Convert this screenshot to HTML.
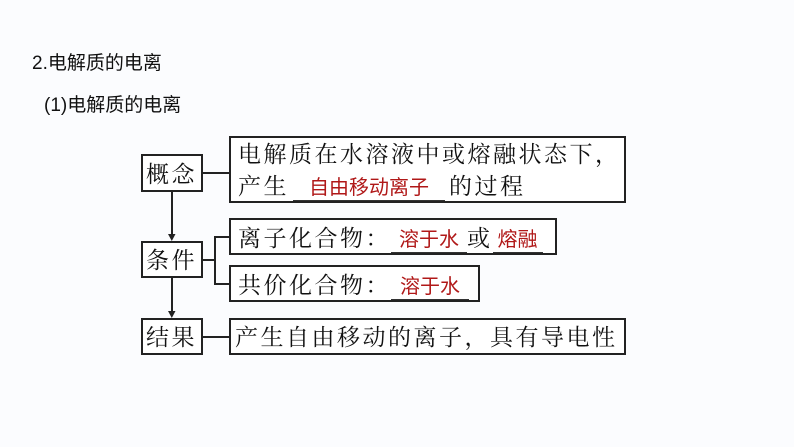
<!DOCTYPE html>
<html><head><meta charset="utf-8"><style>
body{margin:0;width:794px;height:447px;background:#fbfcfe;position:relative;overflow:hidden;font-family:"Liberation Serif","Noto Serif CJK SC",serif;color:#111}
.a{position:absolute;white-space:nowrap}
.b{position:absolute;border:2px solid #222;box-sizing:border-box;background:#fff}
.t{font-size:23px;letter-spacing:2.5px}
.r{color:#b01818;font-family:"Liberation Sans","Noto Sans CJK SC",sans-serif;font-size:20px;letter-spacing:0}
.u{display:inline-block;border-bottom:1.5px solid #333;text-align:center}
.l{position:absolute;background:#222}
</style></head><body>
<div class="a" style="left:32px;top:48px;font-size:19px;font-family:'Liberation Sans','Noto Sans CJK SC',sans-serif">2.电解质的电离</div>
<div class="a" style="left:44px;top:90px;font-size:19px;font-family:'Liberation Sans','Noto Sans CJK SC',sans-serif">(1)电解质的电离</div>

<div class="b" style="left:141px;top:154px;width:62px;height:38px"></div>
<div class="a t" style="left:146px;top:156px">概念</div>
<div class="b" style="left:141px;top:241px;width:62px;height:37px"></div>
<div class="a t" style="left:146px;top:242px">条件</div>
<div class="b" style="left:141px;top:318px;width:62px;height:37px"></div>
<div class="a t" style="left:146px;top:319px">结果</div>

<div class="b" style="left:229px;top:136px;width:397px;height:67px"></div>
<div class="a t" style="left:238px;top:136px">电解质在水溶液中或熔融状态下，</div>
<div class="a t" style="left:238px;top:168px">产生<span class="u r" style="width:152px;margin:0 4px">自由移动离子</span>的过程</div>

<div class="b" style="left:229px;top:218px;width:328px;height:37px"></div>
<div class="a t" style="left:238px;top:220px">离子化合物：<span class="u r" style="width:76px">溶于水</span>或<span class="u r" style="width:50px">熔融</span></div>
<div class="b" style="left:229px;top:265px;width:251px;height:37px"></div>
<div class="a t" style="left:238px;top:267px">共价化合物：<span class="u r" style="width:78px">溶于水</span></div>

<div class="b" style="left:229px;top:318px;width:397px;height:37px"></div>
<div class="a t" style="left:235px;top:319px">产生自由移动的离子，具有导电性</div>

<div class="l" style="left:202px;top:172px;width:27px;height:1.5px"></div>
<div class="l" style="left:202px;top:336px;width:27px;height:1.5px"></div>
<div class="l" style="left:202px;top:259px;width:13px;height:1.5px"></div>
<div class="l" style="left:214px;top:236px;width:1.5px;height:48px"></div>
<div class="l" style="left:214px;top:236px;width:15px;height:1.5px"></div>
<div class="l" style="left:214px;top:283px;width:15px;height:1.5px"></div>
<div class="l" style="left:171px;top:192px;width:1.5px;height:44px"></div>
<div class="l" style="left:171px;top:278px;width:1.5px;height:35px"></div>
<svg class="a" style="left:0;top:0" width="794" height="447"><path d="M168 234 L175.5 234 L171.8 241Z M168 311 L175.5 311 L171.8 318Z" fill="#222"/></svg>
</body></html>
